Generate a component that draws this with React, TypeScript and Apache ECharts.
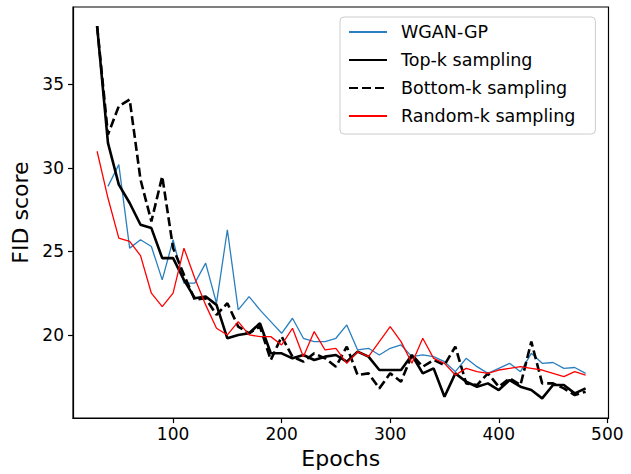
import React, { useEffect, useRef } from "react";
import * as echarts from "echarts";

const epochs = [30, 40, 50, 60, 70, 80, 90, 100, 110, 120, 130, 140, 150, 160, 170, 180, 190, 200, 210, 220, 230, 240, 250, 260, 270, 280, 290, 300, 310, 320, 330, 340, 350, 360, 370, 380, 390, 400, 410, 420, 430, 440, 450, 460, 470, 480];

const wganGP = [null, 28.9, 30.2, 25.2, 25.7, 25.3, 23.3, 25.7, 23.1, 23.1, 24.3, 21.9, 26.3, 21.5, 22.3, 21.5, 20.8, 20.1, 21.0, 19.8, 19.6, 19.6, 19.8, 20.6, 19.1, 19.2, 18.8, 19.2, 19.4, 18.7, 18.8, 18.7, 18.4, 17.8, 18.6, 18.1, 17.7, 18.0, 18.3, 17.8, 18.9, 18.3, 18.35, 18.0, 18.05, 17.7];

const topK = [38.5, 31.5, 29.0, 27.9, 26.6, 26.4, 24.6, 24.6, 23.3, 22.2, 22.3, 21.8, 19.8, 20.0, 20.1, 20.7, 18.9, 18.9, 18.6, 18.8, 18.5, 18.7, 18.8, 18.4, 19.0, 18.7, 17.9, 17.9, 17.9, 18.8, 17.7, 18.0, 16.3, 17.7, 17.2, 16.9, 17.1, 16.7, 17.3, 16.9, 16.7, 16.2, 17.0, 17.0, 16.5, 16.8];

const bottomK = [38.5, 32.0, 33.7, 34.1, 29.3, 26.8, 29.5, 25.2, 23.6, 22.1, 22.2, 21.2, 21.9, 20.5, 20.1, 20.5, 18.5, 19.9, 18.7, 18.4, 18.9, 18.6, 18.1, 19.3, 17.6, 17.7, 16.8, 17.7, 17.2, 18.8, 18.1, 18.5, 18.2, 19.3, 17.1, 17.0, 17.7, 16.9, 17.4, 17.0, 19.6, 17.1, 17.1, 16.8, 16.4, 16.6];

const randomK = [31.0, 28.2, 25.8, 25.6, 24.75, 22.5, 21.7, 22.5, 25.2, 23.4, 21.8, 20.4, 20.0, 20.8, 20.0, 19.9, 19.9, 19.4, 20.4, 18.7, 20.2, 19.1, 19.2, 18.3, 19.0, 18.7, 19.6, 20.5, 19.6, 18.3, 19.8, 18.6, 18.3, 17.6, 18.0, 17.8, 17.7, 17.9, 18.0, 18.1, 18.0, 17.9, 17.7, 17.5, 17.8, 17.6];

const xTicks = [100, 200, 300, 400, 500];
const yTicks = [20, 25, 30, 35];

const seriesNames = ["WGAN-GP", "Top-k sampling", "Bottom-k sampling", "Random-k sampling"];

const toPairs = (vals: (number | null)[]) =>
  epochs.map((e, i) => [e, vals[i]]).filter((d) => d[1] !== null);

export default function App() {
  const ref = useRef<HTMLDivElement>(null);
  useEffect(() => {
    if (!ref.current) return;
    const chart = echarts.init(ref.current, null, { renderer: "svg" });
    const font = "DejaVu Sans";
    chart.setOption({
      animation: false,
      textStyle: { fontFamily: font },
      grid: {
        left: 73,
        right: 22.5,
        top: 7,
        bottom: 52,
        show: true,
        borderColor: "#000",
        borderWidth: 1.2,
        backgroundColor: "transparent",
      },
      legend: {
        orient: "vertical",
        left: 340,
        top: 17,
        data: seriesNames,
        itemWidth: 38,
        itemHeight: 14,
        itemGap: 8,
        padding: [5, 20, 8, 8],
        backgroundColor: "rgba(255,255,255,0.8)",
        borderColor: "#cccccc",
        borderWidth: 1,
        borderRadius: 4,
        itemStyle: { opacity: 0 },
        textStyle: {
          fontFamily: font,
          fontSize: 17.5,
          color: "#000",
          lineHeight: 20,
          padding: [0, 0, 0, 9],
        },
      },
      xAxis: {
        type: "value",
        min: 7.8,
        max: 501.1,
        name: "Epochs",
        nameLocation: "middle",
        nameGap: 28,
        nameTextStyle: { fontFamily: font, fontSize: 22, color: "#000" },
        axisLine: { show: true, onZero: false, lineStyle: { color: "#000", width: 1.2 } },
        axisTick: { show: true, length: 5, customValues: xTicks, lineStyle: { color: "#000", width: 1.2 } },
        axisLabel: { customValues: xTicks, fontFamily: font, fontSize: 17, color: "#000", margin: 7 },
        splitLine: { show: false },
      },
      yAxis: {
        type: "value",
        min: 15.02,
        max: 39.64,
        name: "FID score",
        nameLocation: "middle",
        nameGap: 40,
        nameRotate: 90,
        nameTextStyle: { fontFamily: font, fontSize: 22, color: "#000" },
        axisLine: { show: true, onZero: false, lineStyle: { color: "#000", width: 1.2 } },
        axisTick: { show: true, length: 5, customValues: yTicks, lineStyle: { color: "#000", width: 1.2 } },
        axisLabel: { customValues: yTicks, fontFamily: font, fontSize: 17, color: "#000", margin: 9 },
        splitLine: { show: false },
      },
      series: [
        {
          name: seriesNames[0],
          type: "line",
          data: toPairs(wganGP),
          symbol: "none",
          lineStyle: { color: "#2a7fbf", width: 1.3 },
          itemStyle: { color: "#2a7fbf" },
        },
        {
          name: seriesNames[1],
          type: "line",
          data: toPairs(topK),
          symbol: "none",
          lineStyle: { color: "#000", width: 2.6 },
          itemStyle: { color: "#000" },
        },
        {
          name: seriesNames[2],
          type: "line",
          data: toPairs(bottomK),
          symbol: "none",
          lineStyle: { color: "#000", width: 2.6, type: [9, 4] },
          itemStyle: { color: "#000" },
        },
        {
          name: seriesNames[3],
          type: "line",
          data: toPairs(randomK),
          symbol: "none",
          lineStyle: { color: "#ff0000", width: 1.3 },
          itemStyle: { color: "#ff0000" },
        },
      ],
    });
    return () => chart.dispose();
  }, []);
  return <div ref={ref} style={{ width: 631, height: 474, position: "absolute", left: 0, top: 0 }} />;
}
